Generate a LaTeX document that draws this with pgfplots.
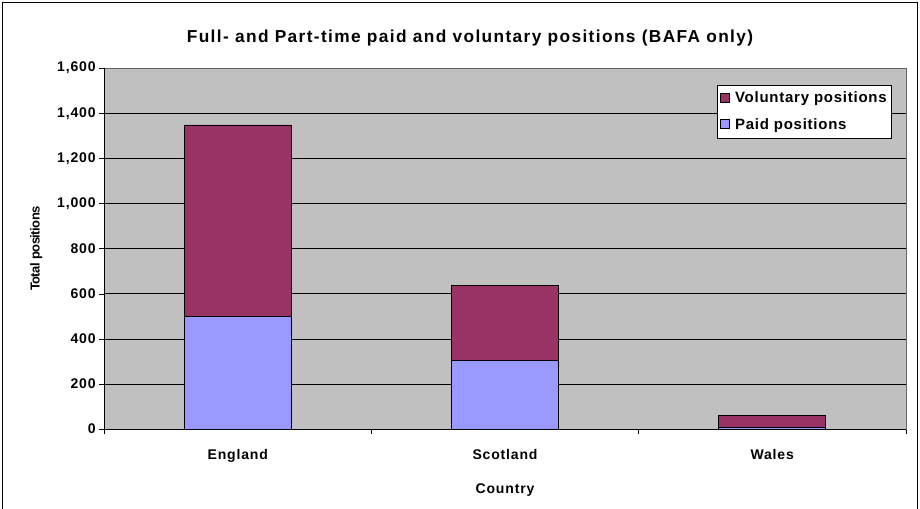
\documentclass[border=0pt]{standalone}
\usepackage{pgfplots}
\pgfplotsset{compat=1.18}
\usepackage{fontspec}
\setmainfont{Liberation Sans}
\newfontfamily\titlefont[LetterSpace=8]{Liberation Sans}
\newfontfamily\tickfont[LetterSpace=6]{Liberation Sans}
\newfontfamily\legfont[LetterSpace=5]{Liberation Sans}
\newfontfamily\ylabfont[LetterSpace=-4]{Liberation Sans}
\definecolor{vol}{HTML}{993366}
\definecolor{paid}{HTML}{9999FF}
\definecolor{plotbg}{HTML}{C0C0C0}
\begin{document}
\begin{tikzpicture}[x=1pt,y=1pt]
\draw[use as bounding box, draw=white, fill=white] (0,0) rectangle (920,508);
\draw[black, line width=1pt] (2,-5) -- (2,506) -- (918,506) -- (918,-5);
\node[font=\titlefont\bfseries\fontsize{17.3}{20}\selectfont] at (470,470) {Full- and Part-time paid and voluntary positions (BAFA only)};
\begin{axis}[
  at={(104pt,79pt)}, anchor=south west,
  scale only axis, width=802pt, height=361pt,
  xmin=-0.5, xmax=2.5, ymin=0, ymax=1600,
  ybar stacked, bar width=107pt,
  axis background/.style={fill=plotbg},
  axis line style={draw=gray!80!black},
  xtick={0,1,2}, xticklabels={England,Scotland,Wales},
  minor xtick={-0.5,0.5,1.5,2.5},
  ytick={0,200,...,1600},
  xtick pos=bottom, ytick pos=left,
  tick align=outside,
  major tick length=5pt, minor tick length=5pt,
  x tick style={draw=none},
  minor x tick style={draw=black},
  y tick style={draw=black},
  ymajorgrids, grid style={black, line width=0.6pt},
  tick label style={font=\tickfont\bfseries\fontsize{14}{16}\selectfont},
  yticklabel style={/pgf/number format/.cd, 1000 sep={,}, assume math mode=true},
  xticklabel style={yshift=-12pt},
  xlabel={Country}, ylabel={Total positions},
  xlabel style={font=\tickfont\bfseries\fontsize{14}{16}\selectfont, yshift=-14pt},
  ylabel style={font=\ylabfont\bfseries\fontsize{13}{15}\selectfont, yshift=8pt},
  legend style={at={(rel axis cs:0.982,0.9537)}, anchor=north east,
    draw=black, fill=white, font=\legfont\bfseries\fontsize{15}{17}\selectfont,
    inner xsep=2.5pt, inner ysep=5pt, row sep=10pt,
    /tikz/every odd column/.append style={column sep=4pt}},
  legend cell align=left,
  reverse legend,
  legend image code/.code={\draw[#1, draw=black, line width=0.6pt] (0pt,-4pt) rectangle (9pt,5pt);},
]
\addplot[fill=paid, draw=black, line width=0.8pt] coordinates {(0,500) (1,306) (2,5)};
\addlegendentry{Paid positions}
\addplot[fill=vol, draw=black, line width=0.8pt] coordinates {(0,848) (1,329) (2,57)};
\addlegendentry{Voluntary positions}
\draw[black, line width=0.8pt] (rel axis cs:0,0) -- (rel axis cs:0,1);
\draw[black, line width=0.8pt] (rel axis cs:0,0) -- (rel axis cs:1,0);
\end{axis}
\end{tikzpicture}
\end{document}
